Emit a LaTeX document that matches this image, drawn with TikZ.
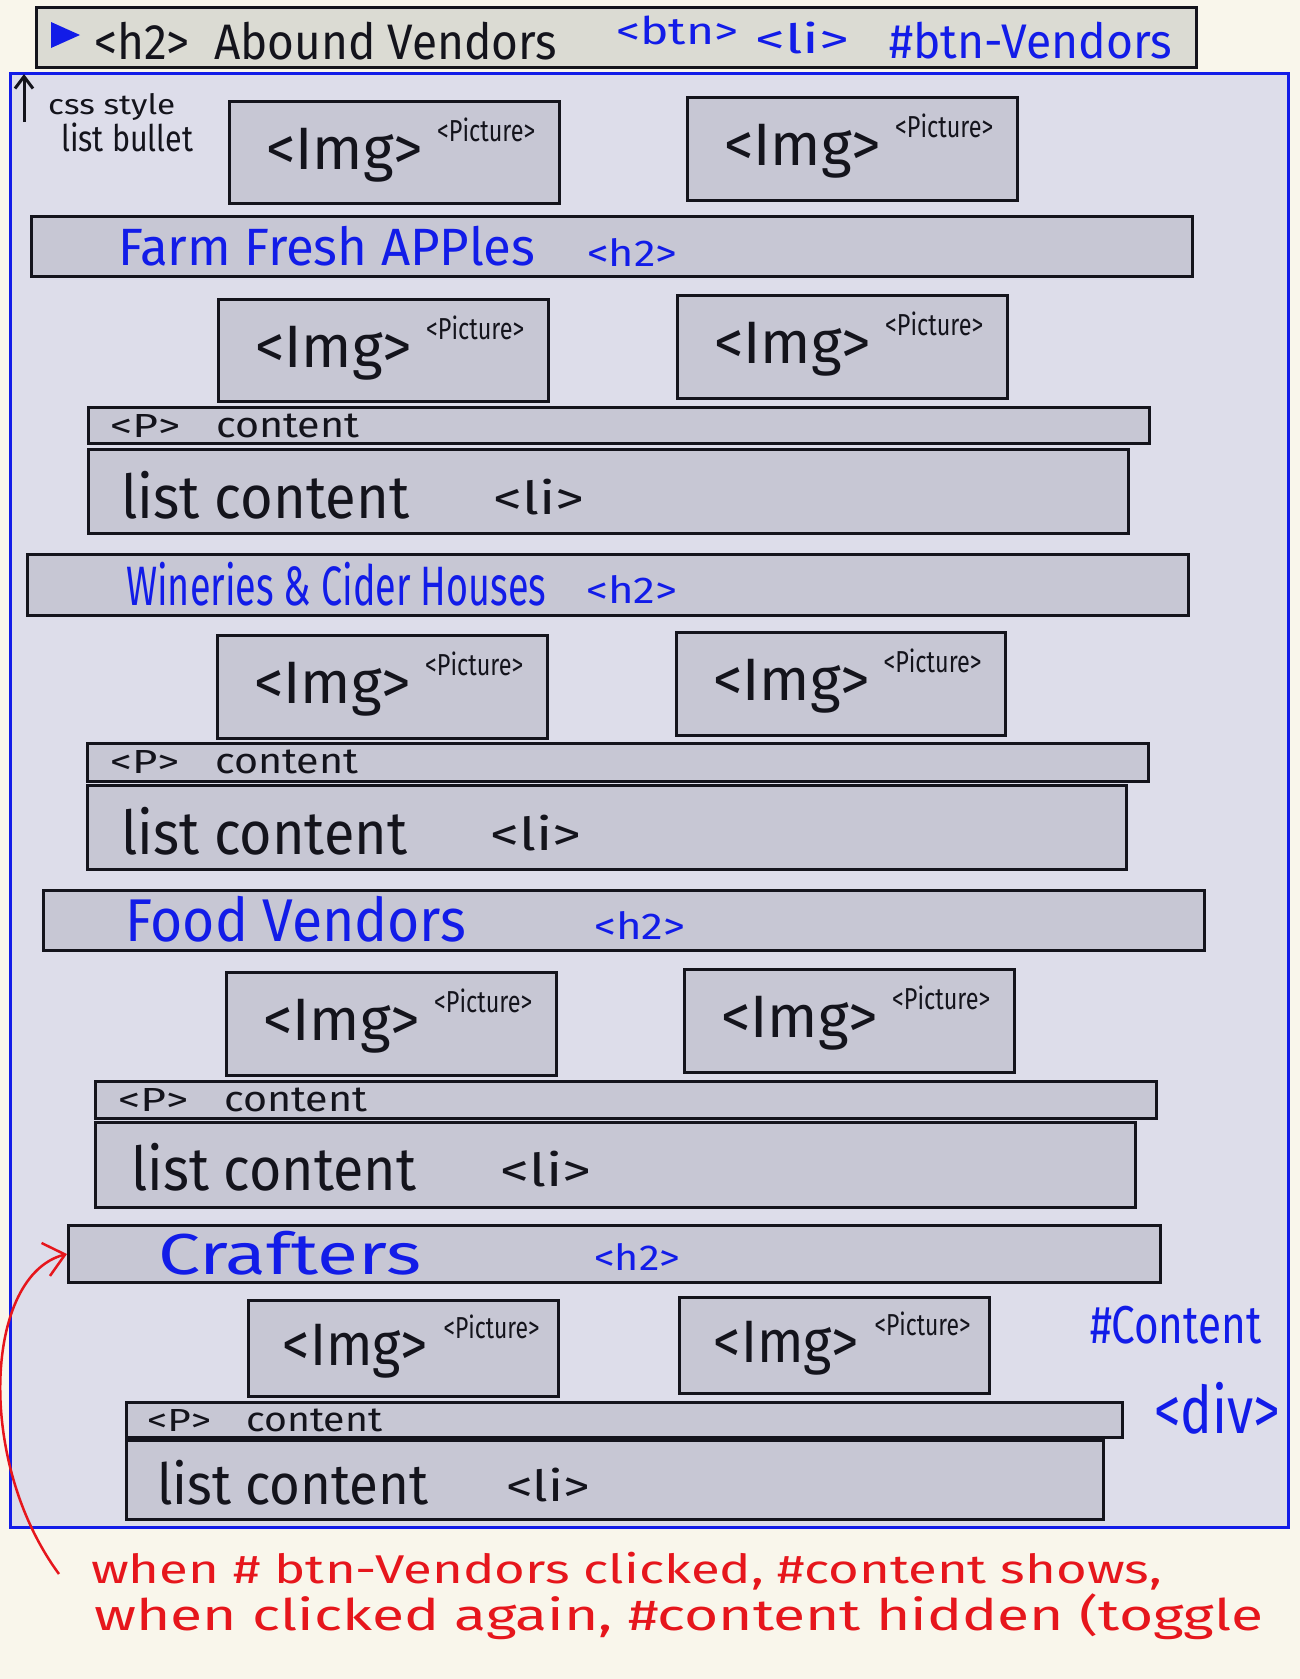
\documentclass[tikz,border=0pt]{standalone}
\usepackage{fontspec}
\setmainfont{Fira Sans}
\usepackage{graphicx}
\usetikzlibrary{calc,arrows.meta}
\definecolor{bg}{RGB}{249,246,235}
\definecolor{cont}{RGB}{221,221,234}
\definecolor{boxf}{RGB}{199,199,212}
\definecolor{barf}{RGB}{219,219,211}
\definecolor{pblue}{RGB}{18,28,232}
\definecolor{pred}{RGB}{230,22,28}
\definecolor{ink}{RGB}{20,20,28}
% text fitted to a width and a total height (in px)
\newcommand{\fb}[3]{\resizebox*{#1pt}{#2pt}{#3}}
% name, x, y, w, h, img text width, picture text width
\newcommand{\imgbox}[7]{%
  \node[box,minimum width=#4pt,minimum height=#5pt] (#1) at (#2,#3) {};
  \node[lbl] (#1-t) at ($(#1.north west)+({0.11515*#4},{0.54*#5})$) {\fb{#6}{54}{<Img>}};
  \node[lbl] (#1-p) at ($(#1.north west)+({0.63333*#4},{0.29126*#5})$) {\fb{#7}{24}{<Picture>}};
}
\begin{document}
\begin{tikzpicture}[x=1pt,y=-1pt,
  box/.style={draw=ink,fill=boxf,line width=3pt,rectangle,inner sep=0pt,anchor=north west},
  lbl/.style={inner sep=0pt,anchor=west,text=ink,font=\fontsize{40}{48}\selectfont},
  bluelbl/.style={lbl,text=pblue},
  redlbl/.style={lbl,text=pred}]
\useasboundingbox (0,0) rectangle (1300,1679);
\fill[bg] (0,0) rectangle (1300,1679);

% top bar
\node[box,fill=barf,minimum width=1160pt,minimum height=60pt] (topbar) at (35,6) {};
\fill[pblue] (51,22) -- (80,35) -- (51,48) -- cycle;
\node[lbl] (tb-a) at (94,41) {\fb{463}{38}{<h2>\ \ Abound Vendors}};
\node[bluelbl] (tb-b) at (616,30) {\fb{122}{29}{<btn>}};
\node[bluelbl] (tb-c) at (755,38) {\fb{94}{32}{<li>}};
\node[bluelbl] (tb-d) at (889,41) {\fb{283}{37}{\#btn-Vendors}};

% content container
\node[draw=pblue,fill=cont,line width=3pt,rectangle,inner sep=0pt,anchor=north west,
  minimum width=1278pt,minimum height=1454pt] (content) at (9,72) {};

% css note
\coordinate (cssA) at (24,122);
\coordinate (cssB) at (24,74);
\draw[ink,line width=3pt,-{Straight Barb[length=12pt,width=18pt]}] (cssA) -- (cssB);
\node[lbl] (css1) at (48,107) {\fb{127}{27}{css style}};
\node[lbl] (css2) at (61,137) {\fb{132}{29}{list bullet}};

% section 1
\imgbox{i1a}{228}{100}{330}{102}{157}{98}
\imgbox{i1b}{686}{96}{330}{103}{157}{98}
\node[box,minimum width=1161pt,minimum height=60pt] (h2a) at (30,215) {};
\node[bluelbl] (h2a-t) at (118,246) {\fb{417}{40}{Farm Fresh APPles}};
\node[bluelbl] (h2a-h) at (587,252) {\fb{90}{28}{<h2>}};
\imgbox{i1c}{217}{298}{330}{102}{157}{98}
\imgbox{i1d}{676}{294}{330}{103}{157}{98}
\node[box,minimum width=1061pt,minimum height=36pt] (p1) at (87,406) {};
\node[lbl] (p1-a) at (110,426) {\fb{70}{23}{<P>}};
\node[lbl] (p1-b) at (216,426) {\fb{143}{24}{content}};
\node[box,minimum width=1040pt,minimum height=84pt] (l1) at (87,448) {};
\node[lbl] (l1-a) at (121,495) {\fb{288}{48}{list content}};
\node[lbl] (l1-b) at (493,497) {\fb{91}{36}{<li>}};

% section 2
\node[box,minimum width=1161pt,minimum height=61pt] (h2b) at (26,553) {};
\node[bluelbl] (h2b-t) at (126,584) {\fb{420}{44}{Wineries \& Cider Houses}};
\node[bluelbl] (h2b-h) at (586,589) {\fb{91}{28}{<h2>}};
\imgbox{i2a}{216}{634}{330}{103}{157}{98}
\imgbox{i2b}{675}{631}{329}{103}{157}{98}
\node[box,minimum width=1061pt,minimum height=38pt] (p2) at (86,742) {};
\node[lbl] (p2-a) at (110,762) {\fb{69}{23}{<P>}};
\node[lbl] (p2-b) at (215,762) {\fb{143}{24}{content}};
\node[box,minimum width=1039pt,minimum height=84pt] (l2) at (86,784) {};
\node[lbl] (l2-a) at (121,831) {\fb{286}{48}{list content}};
\node[lbl] (l2-b) at (490,833) {\fb{91}{36}{<li>}};

% section 3
\node[box,minimum width=1161pt,minimum height=60pt] (h2c) at (42,889) {};
\node[bluelbl] (h2c-t) at (125,919) {\fb{341}{46}{Food Vendors}};
\node[bluelbl] (h2c-h) at (594,925) {\fb{91}{28}{<h2>}};
\imgbox{i3a}{225}{971}{330}{103}{157}{98}
\imgbox{i3b}{683}{968}{330}{103}{157}{98}
\node[box,minimum width=1061pt,minimum height=37pt] (p3) at (94,1080) {};
\node[lbl] (p3-a) at (118,1100) {\fb{70}{23}{<P>}};
\node[lbl] (p3-b) at (224,1100) {\fb{143}{24}{content}};
\node[box,minimum width=1040pt,minimum height=85pt] (l3) at (94,1121) {};
\node[lbl] (l3-a) at (131,1167) {\fb{285}{48}{list content}};
\node[lbl] (l3-b) at (500,1169) {\fb{91}{36}{<li>}};

% section 4
\node[box,minimum width=1092pt,minimum height=57pt] (h2d) at (67,1224) {};
\node[bluelbl] (h2d-t) at (158,1253) {\fb{263}{44}{Crafters}};
\node[bluelbl] (h2d-h) at (594,1257) {\fb{86}{27}{<h2>}};
\imgbox{i4a}{247}{1299}{310}{96}{145}{96}
\imgbox{i4b}{678}{1296}{310}{96}{145}{96}
\node[box,minimum width=996pt,minimum height=35pt] (p4) at (125,1401) {};
\node[lbl] (p4-a) at (147,1420) {\fb{64}{22}{<P>}};
\node[lbl] (p4-b) at (246,1420) {\fb{136}{23}{content}};
\node[box,minimum width=977pt,minimum height=79pt] (l4) at (125,1439) {};
\node[lbl] (l4-a) at (157,1483) {\fb{271}{45}{list content}};
\node[lbl] (l4-b) at (506,1485) {\fb{84}{34}{<li>}};

% container labels
\node[bluelbl] (cid) at (1090,1325) {\fb{171}{38}{\#Content}};
\node[bluelbl] (cdiv) at (1154,1408) {\fb{126}{52}{<div>}};

% red note
\node[redlbl] (note1) at (91,1571) {\fb{1071}{38}{when \# btn-Vendors clicked, \#content shows,}};
\node[redlbl] (note2) at (94,1617) {\fb{1169}{46}{when clicked again, \#content hidden (toggle}};
\coordinate (noteStart) at (59,1574);
\draw[pred,line width=2.5pt,-{Straight Barb[length=20pt,width=34pt]}]
  (noteStart) .. controls (-25,1460) and (-15,1275) .. (h2d.west);
\end{tikzpicture}
\end{document}
